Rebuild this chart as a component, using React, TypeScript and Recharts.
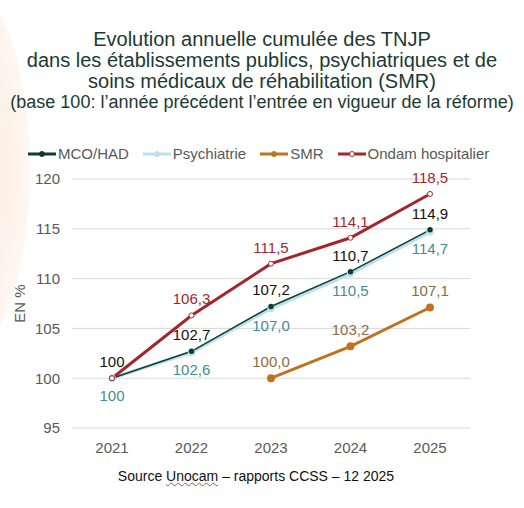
import { LineChart, Line, XAxis, YAxis, CartesianGrid, LabelList } from "recharts";

const years = ["2021", "2022", "2023", "2024", "2025"];
const mcoValues = [100, 102.7, 107.2, 110.7, 114.9];
const psyValues = [100, 102.6, 107.0, 110.5, 114.7];
const smrValues = [null, null, 100.0, 103.2, 107.1];
const ondamValues = [100, 106.3, 111.5, 114.1, 118.5];
const mcoLabels = ["100", "102,7", "107,2", "110,7", "114,9"];
const psyLabels = ["100", "102,6", "107,0", "110,5", "114,7"];
const smrLabels = ["", "", "100,0", "103,2", "107,1"];
const ondamLabels = ["", "106,3", "111,5", "114,1", "118,5"];
const yTicks = [95, 100, 105, 110, 115, 120];

const data = years.map((year, i) => ({
  year,
  mco: mcoValues[i],
  psy: psyValues[i],
  smr: smrValues[i],
  ondam: ondamValues[i],
  mcoLabel: mcoLabels[i],
  psyLabel: psyLabels[i],
  smrLabel: smrLabels[i],
  ondamLabel: ondamLabels[i],
}));

const FONT = "'Liberation Sans', Arial, sans-serif";

const series = [
  { key: "mco", name: "MCO/HAD", color: "#0f3b33", fill: "#0f3b33" },
  { key: "psy", name: "Psychiatrie", color: "#b9e2ee", fill: "#b9e2ee" },
  { key: "smr", name: "SMR", color: "#c0731f", fill: "#c0731f" },
  { key: "ondam", name: "Ondam hospitalier", color: "#a3262c", fill: "#fff" },
];

function CustomLegend() {
  return (
    <div style={{ display: "flex", alignItems: "center", fontFamily: FONT, fontSize: 15, color: "#595959" }}>
      {series.map((s) => (
        <div key={s.key} style={{ display: "flex", alignItems: "center", marginRight: 14 }}>
          <svg width={28} height={10} style={{ marginRight: 2 }}>
            <line x1={0} y1={5} x2={28} y2={5} stroke={s.color} strokeWidth={3} />
            <circle cx={14} cy={5} r={2.5} fill={s.fill} stroke={s.color} strokeWidth={1} />
          </svg>
          <span>{s.name}</span>
        </div>
      ))}
    </div>
  );
}

export default function App() {
  return (
    <div
      style={{
        position: "absolute",
        left: 0,
        top: 0,
        width: 524,
        height: 508,
        background: "#fff",
        overflow: "hidden",
        fontFamily: FONT,
      }}
    >
      {/* faint decoration on the left edge */}
      <div
        style={{
          position: "absolute",
          left: -110,
          top: -20,
          width: 140,
          height: 380,
          borderRadius: "50%",
          background: "radial-gradient(ellipse at center, #fce8d8 0%, #fef4ec 60%, rgba(255,255,255,0) 100%)",
        }}
      />
      <div
        style={{
          position: "absolute",
          left: 0,
          top: 29,
          width: 524,
          textAlign: "center",
          color: "#1b3a33",
          lineHeight: "21px",
        }}
      >
        <div style={{ fontSize: 20 }}>Evolution annuelle cumulée des TNJP</div>
        <div style={{ fontSize: 20 }}>dans les établissements publics, psychiatriques et de</div>
        <div style={{ fontSize: 20 }}>soins médicaux de réhabilitation (SMR)</div>
        <div style={{ fontSize: 18 }}>(base 100: l’année précédent l’entrée en vigueur de la réforme)</div>
      </div>
      <div style={{ position: "absolute", left: 28, top: 145 }}>
        <CustomLegend />
      </div>
      <div style={{ position: "absolute", left: 0, top: 0 }}>
        <LineChart width={524} height={508} data={data} margin={{ top: 179, right: 54, bottom: 50, left: 32 }}>
          <CartesianGrid vertical={false} stroke="#d9d9d9" />
          <XAxis
            dataKey="year"
            padding={{ left: 40, right: 40 }}
            axisLine={false}
            tickLine={false}
            tickMargin={8}
            tick={{ fill: "#595959", fontSize: 15, fontFamily: FONT }}
          />
          <YAxis
            domain={[95, 120]}
            ticks={yTicks}
            width={40}
            axisLine={false}
            tickLine={false}
            tickMargin={6}
            tick={{ fill: "#595959", fontSize: 15, fontFamily: FONT }}
            label={{
              value: "EN %",
              angle: -90,
              position: "insideLeft",
              offset: -12,
              style: { fill: "#595959", fontSize: 15, fontFamily: FONT, textAnchor: "middle" },
            }}
          />
          <Line
            dataKey="psy"
            name="Psychiatrie"
            stroke="#b9e2ee"
            strokeWidth={3.5}
            dot={{ r: 2, fill: "#b9e2ee", stroke: "#b9e2ee" }}
            isAnimationActive={false}
          >
            <LabelList dataKey="psyLabel" position="bottom" offset={12} style={{ fill: "#3f8c9c", fontSize: 15, fontFamily: FONT }} />
          </Line>
          <Line
            dataKey="mco"
            name="MCO/HAD"
            stroke="#0f3b33"
            strokeWidth={1.5}
            dot={{ r: 2, fill: "#0f3b33", stroke: "#0f3b33" }}
            isAnimationActive={false}
          >
            <LabelList dataKey="mcoLabel" position="top" offset={11} style={{ fill: "#111", fontSize: 15, fontFamily: FONT }} />
          </Line>
          <Line
            dataKey="smr"
            name="SMR"
            stroke="#c0731f"
            strokeWidth={3}
            dot={{ r: 2.5, fill: "#c0731f", stroke: "#c0731f" }}
            isAnimationActive={false}
          >
            <LabelList dataKey="smrLabel" position="top" offset={11} style={{ fill: "#8e6a3c", fontSize: 15, fontFamily: FONT }} />
          </Line>
          <Line
            dataKey="ondam"
            name="Ondam hospitalier"
            stroke="#a3262c"
            strokeWidth={3}
            dot={{ r: 2.5, fill: "#fff", stroke: "#a3262c", strokeWidth: 1 }}
            isAnimationActive={false}
          >
            <LabelList dataKey="ondamLabel" position="top" offset={11} style={{ fill: "#a3262c", fontSize: 15, fontFamily: FONT }} />
          </Line>
        </LineChart>
      </div>
      <div
        style={{
          position: "absolute",
          left: 0,
          top: 468,
          width: 512,
          textAlign: "center",
          fontSize: 14,
          color: "#111",
        }}
      >
        Source <span style={{ textDecoration: "underline wavy #d04040", textDecorationThickness: 1 }}>Unocam</span> – rapports CCSS – 12 2025
      </div>
    </div>
  );
}
